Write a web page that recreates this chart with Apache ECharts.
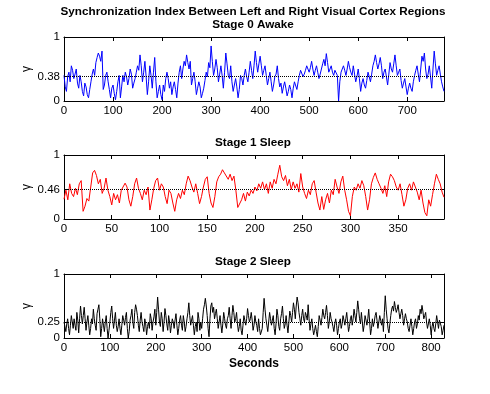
<!DOCTYPE html>
<html>
<head>
<meta charset="utf-8">
<script src="https://cdn.jsdelivr.net/npm/echarts@6/dist/echarts.min.js"></script>
<style>
html, body { margin: 0; padding: 0; background: #fff; }
#main { width: 490px; height: 394px; }
</style>
</head>
<body>
<div id="main"></div>
<script>
// synchronization index (one value every 2.5 s / 2 s / 2 s)
var awake = [
  0.40, 0.22, 0.15, 0.38, 0.45, 0.30, 0.55, 0.48, 0.35, 0.42, 0.50, 0.28, 0.20, 0.40, 0.30, 0.15, 0.08, 0.28, 0.22, 0.10,
  0.05, 0.18, 0.30, 0.42, 0.50, 0.40, 0.60, 0.68, 0.75, 0.70, 0.62, 0.78, 0.18, 0.25, 0.40, 0.45, 0.30, 0.18, 0.05, 0.20,
  0.25, 0.12, 0.02, 0.15, 0.30, 0.40, 0.05, 0.22, 0.40, 0.30, 0.45, 0.38, 0.25, 0.35, 0.50, 0.42, 0.20, 0.28, 0.35, 0.45,
  0.55, 0.48, 0.72, 0.55, 0.30, 0.45, 0.62, 0.38, 0.10, 0.30, 0.55, 0.40, 0.20, 0.45, 0.68, 0.30, 0.05, 0.15, 0.25, 0.10,
  0.02, 0.25, 0.15, 0.35, 0.45, 0.35, 0.20, 0.30, 0.10, 0.22, 0.30, 0.18, 0.05, 0.28, 0.45, 0.55, 0.35, 0.50, 0.62, 0.55,
  0.72, 0.60, 0.50, 0.62, 0.25, 0.35, 0.45, 0.30, 0.10, 0.20, 0.30, 0.22, 0.05, 0.12, 0.20, 0.32, 0.45, 0.38, 0.60, 0.52,
  0.86, 0.62, 0.40, 0.50, 0.65, 0.52, 0.30, 0.42, 0.55, 0.40, 0.20, 0.45, 0.75, 0.58, 0.40, 0.35, 0.55, 0.30, 0.15, 0.25,
  0.35, 0.22, 0.05, 0.18, 0.40, 0.35, 0.25, 0.40, 0.50, 0.38, 0.30, 0.45, 0.62, 0.48, 0.35, 0.55, 0.78, 0.60, 0.45, 0.58,
  0.70, 0.55, 0.40, 0.48, 0.55, 0.40, 0.25, 0.35, 0.45, 0.30, 0.15, 0.25, 0.38, 0.42, 0.55, 0.35, 0.22, 0.28, 0.12, 0.22,
  0.30, 0.20, 0.08, 0.15, 0.25, 0.18, 0.05, 0.20, 0.30, 0.28, 0.18, 0.30, 0.40, 0.48, 0.50, 0.38, 0.42, 0.48, 0.55, 0.50,
  0.45, 0.52, 0.62, 0.50, 0.40, 0.48, 0.55, 0.45, 0.35, 0.42, 0.50, 0.58, 0.65, 0.55, 0.74, 0.60, 0.45, 0.50, 0.55, 0.45,
  0.40, 0.48, 0.50, 0.40, 0.00, 0.30, 0.45, 0.50, 0.55, 0.48, 0.40, 0.50, 0.62, 0.52, 0.45, 0.40, 0.55, 0.42, 0.30, 0.38,
  0.50, 0.35, 0.15, 0.28, 0.35, 0.25, 0.20, 0.32, 0.45, 0.38, 0.30, 0.42, 0.55, 0.62, 0.72, 0.60, 0.50, 0.58, 0.68, 0.55,
  0.35, 0.45, 0.50, 0.38, 0.25, 0.42, 0.60, 0.50, 0.45, 0.58, 0.72, 0.55, 0.40, 0.45, 0.50, 0.32, 0.20, 0.28, 0.35, 0.22,
  0.10, 0.20, 0.28, 0.20, 0.15, 0.30, 0.40, 0.48, 0.55, 0.42, 0.30, 0.50, 0.70, 0.62, 0.75, 0.50, 0.35, 0.42, 0.55, 0.38,
  0.20, 0.50, 0.78, 0.58, 0.40, 0.48, 0.55, 0.42, 0.30, 0.22, 0.15
];
var sleep1 = [
  0.31, 0.45, 0.30, 0.55, 0.40, 0.35, 0.48, 0.38, 0.55, 0.60,
  0.12, 0.20, 0.32, 0.28, 0.50, 0.72, 0.76, 0.68, 0.55, 0.62,
  0.40, 0.48, 0.64, 0.45, 0.35, 0.22, 0.40, 0.30, 0.38, 0.25,
  0.45, 0.42, 0.56, 0.50, 0.30, 0.20, 0.35, 0.55, 0.64, 0.48,
  0.40, 0.30, 0.45, 0.38, 0.50, 0.14, 0.30, 0.48, 0.60, 0.64,
  0.45, 0.55, 0.50, 0.35, 0.24, 0.45, 0.40, 0.25, 0.12, 0.30,
  0.40, 0.32, 0.45, 0.38, 0.55, 0.67, 0.60, 0.50, 0.42, 0.55,
  0.40, 0.24, 0.35, 0.50, 0.62, 0.66, 0.40, 0.25, 0.18, 0.35,
  0.58, 0.66, 0.70, 0.77, 0.72, 0.75, 0.62, 0.70, 0.60, 0.67,
  0.45, 0.18, 0.15, 0.30, 0.40, 0.28, 0.42, 0.36, 0.45, 0.40,
  0.50, 0.44, 0.55, 0.48, 0.58, 0.46, 0.55, 0.40, 0.58, 0.48,
  0.62, 0.55, 0.70, 0.84, 0.66, 0.60, 0.68, 0.52, 0.62, 0.46,
  0.58, 0.48, 0.55, 0.42, 0.71, 0.50, 0.40, 0.32, 0.45, 0.38,
  0.55, 0.60, 0.42, 0.25, 0.14, 0.35, 0.15, 0.30, 0.40, 0.25,
  0.45, 0.38, 0.62, 0.50, 0.40, 0.58, 0.67, 0.45, 0.30, 0.12,
  0.05, 0.35, 0.50, 0.45, 0.55, 0.48, 0.60, 0.52, 0.35, 0.14,
  0.30, 0.55, 0.65, 0.72, 0.62, 0.55, 0.48, 0.40, 0.52, 0.35,
  0.58, 0.70, 0.66, 0.60, 0.50, 0.45, 0.55, 0.38, 0.20, 0.30,
  0.48, 0.55, 0.45, 0.58, 0.50, 0.42, 0.30, 0.45, 0.25, 0.10,
  0.05, 0.30, 0.20, 0.38, 0.55, 0.70, 0.62, 0.55, 0.42, 0.34
];
var sleep2 = [
  0.25, 0.18, 0.10, 0.22, 0.30, 0.15, 0.05, 0.20, 0.35, 0.25, 0.15, 0.30, 0.20, 0.12, 0.40, 0.28, 0.08, 0.30, 0.50, 0.35,
  0.22, 0.35, 0.48, 0.30, 0.12, 0.25, 0.35, 0.20, 0.05, 0.15, 0.30, 0.22, 0.45, 0.30, 0.20, 0.12, 0.38, 0.45, 0.52, 0.30,
  0.02, 0.15, 0.30, 0.20, 0.10, 0.25, 0.35, 0.15, 0.00, 0.12, 0.25, 0.40, 0.50, 0.30, 0.15, 0.28, 0.40, 0.20, 0.10, 0.18,
  0.30, 0.15, 0.05, 0.20, 0.35, 0.28, 0.20, 0.32, 0.40, 0.15, 0.00, 0.10, 0.28, 0.35, 0.45, 0.25, 0.15, 0.40, 0.52, 0.45,
  0.35, 0.20, 0.10, 0.28, 0.40, 0.25, 0.18, 0.10, 0.30, 0.22, 0.05, 0.18, 0.25, 0.15, 0.38, 0.30, 0.12, 0.25, 0.33, 0.45,
  0.20, 0.40, 0.64, 0.45, 0.25, 0.18, 0.40, 0.30, 0.10, 0.25, 0.46, 0.35, 0.22, 0.12, 0.35, 0.25, 0.08, 0.20, 0.30, 0.25,
  0.15, 0.28, 0.38, 0.20, 0.05, 0.15, 0.28, 0.35, 0.20, 0.12, 0.35, 0.25, 0.10, 0.18, 0.30, 0.40, 0.55, 0.35, 0.20, 0.28,
  0.35, 0.20, 0.05, 0.18, 0.25, 0.10, 0.40, 0.30, 0.12, 0.25, 0.15, 0.30, 0.45, 0.52, 0.62, 0.50, 0.35, 0.15, 0.02, 0.30,
  0.50, 0.55, 0.40, 0.48, 0.30, 0.38, 0.45, 0.30, 0.15, 0.25, 0.35, 0.20, 0.08, 0.22, 0.40, 0.30, 0.20, 0.15, 0.30, 0.35,
  0.48, 0.30, 0.15, 0.35, 0.51, 0.40, 0.25, 0.30, 0.40, 0.22, 0.10, 0.18, 0.30, 0.12, 0.05, 0.20, 0.35, 0.28, 0.20, 0.30,
  0.46, 0.35, 0.25, 0.30, 0.40, 0.28, 0.12, 0.20, 0.35, 0.25, 0.20, 0.10, 0.30, 0.15, 0.05, 0.08, 0.15, 0.40, 0.62, 0.45,
  0.30, 0.20, 0.10, 0.25, 0.40, 0.30, 0.20, 0.28, 0.35, 0.15, 0.05, 0.22, 0.45, 0.35, 0.18, 0.12, 0.30, 0.38, 0.50, 0.30,
  0.15, 0.22, 0.35, 0.20, 0.08, 0.25, 0.42, 0.35, 0.25, 0.40, 0.55, 0.45, 0.30, 0.50, 0.64, 0.55, 0.40, 0.30, 0.20, 0.35,
  0.45, 0.30, 0.25, 0.40, 0.35, 0.28, 0.52, 0.30, 0.12, 0.22, 0.30, 0.15, 0.05, 0.12, 0.20, 0.10, 0.02, 0.18, 0.35, 0.28,
  0.20, 0.32, 0.45, 0.35, 0.30, 0.40, 0.51, 0.35, 0.15, 0.25, 0.40, 0.30, 0.25, 0.18, 0.10, 0.22, 0.30, 0.20, 0.05, 0.15,
  0.25, 0.30, 0.15, 0.22, 0.35, 0.28, 0.20, 0.30, 0.40, 0.25, 0.10, 0.18, 0.30, 0.35, 0.20, 0.30, 0.45, 0.35, 0.25, 0.40,
  0.58, 0.45, 0.30, 0.22, 0.40, 0.25, 0.10, 0.20, 0.35, 0.28, 0.20, 0.30, 0.45, 0.25, 0.05, 0.15, 0.30, 0.18, 0.25, 0.35,
  0.40, 0.28, 0.15, 0.25, 0.35, 0.28, 0.20, 0.30, 0.10, 0.40, 0.66, 0.45, 0.30, 0.15, 0.08, 0.22, 0.35, 0.45, 0.50, 0.42,
  0.57, 0.48, 0.40, 0.45, 0.52, 0.40, 0.30, 0.38, 0.45, 0.35, 0.20, 0.30, 0.38, 0.30, 0.25, 0.15, 0.10, 0.20, 0.30, 0.18,
  0.05, 0.15, 0.25, 0.30, 0.15, 0.22, 0.35, 0.28, 0.45, 0.38, 0.51, 0.42, 0.30, 0.35, 0.40, 0.25, 0.15, 0.22, 0.30, 0.20,
  0.05, 0.18, 0.25, 0.15, 0.10, 0.22, 0.35, 0.25, 0.15, 0.28, 0.30, 0.18, 0.05, 0.12, 0.20
];

var steps = [2.5, 2, 2];          // seconds between samples
var xMax = [775, 398, 828];
var xInterval = [100, 50, 100];
var means = [0.38, 0.46, 0.25];   // also the middle y tick
var stageNames = ['Stage 0 Awake', 'Stage 1 Sleep', 'Stage 2 Sleep'];
var colors = ['#0000ff', '#ff0000', '#000000'];
var seriesValues = [awake, sleep1, sleep2];

var FONT = 'Liberation Sans';
var gridTops = [37, 155, 274];

var myChart = echarts.init(document.getElementById('main'));

var grids = [], xAxes = [], yAxes = [], series = [], texts = [];

texts.push({
  type: 'text', x: 253, y: 12,
  style: { text: 'Synchronization Index Between Left and Right Visual Cortex Regions',
           textAlign: 'center', textVerticalAlign: 'middle',
           font: 'bold 11.7px ' + FONT, fill: '#000' }
});

for (var i = 0; i < 3; i++) {
  grids.push({ left: 64, top: gridTops[i], width: 380, height: 64 });

  texts.push({
    type: 'text', x: 253, y: gridTops[i] - 12,
    style: { text: stageNames[i], textAlign: 'center', textVerticalAlign: 'middle',
             font: 'bold 11.7px ' + FONT, fill: '#000' }
  });

  var yTicks = [0, means[i], 1];

  // bottom x axis
  xAxes.push({
    gridIndex: i, type: 'value', min: 0, max: xMax[i], interval: xInterval[i],
    position: 'bottom',
    name: i === 2 ? 'Seconds' : '',
    nameLocation: 'middle', nameGap: 20,
    nameTextStyle: { fontFamily: FONT, fontSize: 12, fontWeight: 'bold', color: '#000' },
    axisLine: { onZero: false, lineStyle: { color: '#000', width: 1 } },
    axisTick: { inside: true, length: 4, lineStyle: { color: '#000' } },
    axisLabel: { showMaxLabel: false, margin: 4, fontFamily: FONT, fontSize: 11.5, color: '#000' },
    splitLine: { show: false }
  });
  // top x axis (box + ticks only)
  xAxes.push({
    gridIndex: i, type: 'value', min: 0, max: xMax[i], interval: xInterval[i],
    position: 'top',
    axisLine: { onZero: false, lineStyle: { color: '#000', width: 1 } },
    axisTick: { inside: true, length: 4, lineStyle: { color: '#000' } },
    axisLabel: { show: false },
    splitLine: { show: false }
  });
  // left y axis
  yAxes.push({
    gridIndex: i, type: 'value', min: 0, max: 1, position: 'left',
    name: 'γ', nameLocation: 'middle', nameRotate: 90, nameGap: 31,
    nameMoveOverlap: false,
    nameTextStyle: { fontFamily: FONT, fontSize: 12, color: '#000' },
    axisLine: { onZero: false, lineStyle: { color: '#000', width: 1 } },
    axisTick: { inside: true, length: 4, customValues: yTicks, lineStyle: { color: '#000' } },
    axisLabel: { customValues: yTicks, margin: 4, fontFamily: FONT, fontSize: 11.5, color: '#000' },
    splitLine: { show: false }
  });
  // right y axis
  yAxes.push({
    gridIndex: i, type: 'value', min: 0, max: 1, position: 'right',
    axisLine: { onZero: false, lineStyle: { color: '#000', width: 1 } },
    axisTick: { inside: true, length: 4, customValues: yTicks, lineStyle: { color: '#000' } },
    axisLabel: { show: false },
    splitLine: { show: false }
  });

  var step = steps[i];
  series.push({
    type: 'line',
    xAxisIndex: 2 * i, yAxisIndex: 2 * i,
    data: seriesValues[i].map(function (v, k) { return [k * step, v]; }),
    showSymbol: false,
    lineStyle: { color: colors[i], width: 1 },
    markLine: {
      silent: true, symbol: 'none', label: { show: false },
      lineStyle: { type: 'dotted', color: '#000', width: 1 },
      data: [{ yAxis: means[i] }]
    }
  });
}

var option = {
  animation: false,
  backgroundColor: '#fff',
  grid: grids,
  xAxis: xAxes,
  yAxis: yAxes,
  series: series,
  graphic: texts
};

myChart.setOption(option);
</script>
</body>
</html>
